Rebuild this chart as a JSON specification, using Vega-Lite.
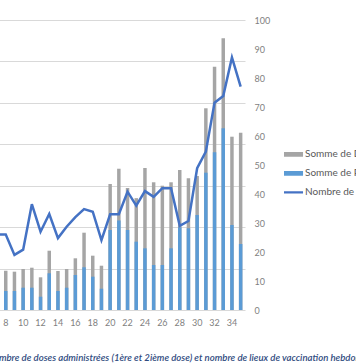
{
  "$schema": "https://vega.github.io/schema/vega-lite/v6.json",
  "width": 252.3,
  "height": 290,
  "autosize": {"type": "none"},
  "padding": {"left": -7.3, "top": 20, "right": 111, "bottom": 54},
  "background": "white",
  "config": {"view": {"stroke": null}, "font": "Lato"},
  "data": {"values": [
    {"week": 7, "doses": null, "prem": null, "lieux": 26},
    {"week": 8, "doses": 949, "prem": 459, "lieux": 26},
    {"week": 9, "doses": 925, "prem": 459, "lieux": 19},
    {"week": 10, "doses": 990, "prem": 538, "lieux": 20.8},
    {"week": 11, "doses": 1021, "prem": 538, "lieux": 36.5},
    {"week": 12, "doses": 789, "prem": 321, "lieux": 27},
    {"week": 13, "doses": 1431, "prem": 886, "lieux": 33.1},
    {"week": 14, "doses": 941, "prem": 459, "lieux": 24.8},
    {"week": 15, "doses": 990, "prem": 538, "lieux": 28.7},
    {"week": 16, "doses": 1248, "prem": 845, "lieux": 32},
    {"week": 17, "doses": 1866, "prem": 1031, "lieux": 34.8},
    {"week": 18, "doses": 1311, "prem": 804, "lieux": 33.9},
    {"week": 19, "doses": 1069, "prem": 514, "lieux": 24.1},
    {"week": 20, "doses": 3042, "prem": 1931, "lieux": 33},
    {"week": 21, "doses": 3410, "prem": 2161, "lieux": 33},
    {"week": 22, "doses": 2945, "prem": 1931, "lieux": 40.8},
    {"week": 23, "doses": 2700, "prem": 1649, "lieux": 36},
    {"week": 24, "doses": 3428, "prem": 1489, "lieux": 41},
    {"week": 25, "doses": 3083, "prem": 1086, "lieux": 39},
    {"week": 26, "doses": 3000, "prem": 1086, "lieux": 42},
    {"week": 27, "doses": 3083, "prem": 1489, "lieux": 42},
    {"week": 28, "doses": 3380, "prem": 1996, "lieux": 29},
    {"week": 29, "doses": 3179, "prem": 1972, "lieux": 30.7},
    {"week": 30, "doses": 3235, "prem": 2293, "lieux": 48.9},
    {"week": 31, "doses": 4869, "prem": 3314, "lieux": 54.6},
    {"week": 32, "doses": 5873, "prem": 3807, "lieux": 71.5},
    {"week": 33, "doses": 6559, "prem": 4386, "lieux": 73.8},
    {"week": 34, "doses": 4183, "prem": 2052, "lieux": 87.1},
    {"week": 35, "doses": 4280, "prem": 1593, "lieux": 77}
  ]},
  "title": {
    "text": "Nombre de doses administrées (1ère et 2ième dose) et nombre de lieux de vaccination hebdomadaire",
    "orient": "bottom",
    "anchor": "start",
    "frame": "group",
    "dx": -5.5,
    "offset": 26,
    "font": "Lato",
    "fontSize": 9.6,
    "fontStyle": "italic",
    "fontWeight": 600,
    "color": "#2F4B80"
  },
  "encoding": {
    "x": {
      "field": "week",
      "type": "ordinal",
      "scale": {"domain": [7,8,9,10,11,12,13,14,15,16,17,18,19,20,21,22,23,24,25,26,27,28,29,30,31,32,33,34,35], "paddingInner": 0, "paddingOuter": 0},
      "axis": {
        "values": [8,10,12,14,16,18,20,22,24,26,28,30,32,34],
        "labelAngle": 0,
        "ticks": false,
        "domain": false,
        "grid": false,
        "labelPadding": 8,
        "labelFontSize": 9,
        "labelColor": "#7F7F7F",
        "title": null
      }
    }
  },
  "layer": [
    {
      "mark": {"type": "bar", "width": {"band": 0.4}},
      "encoding": {
        "y": {
          "field": "doses",
          "type": "quantitative",
          "scale": {"domain": [0, 7000], "nice": false},
          "axis": {
            "orient": "left",
            "labels": false,
            "ticks": false,
            "domain": false,
            "grid": true,
            "gridColor": "#D9D9D9",
            "gridWidth": 1,
            "values": [0,1000,2000,3000,4000,5000,6000,7000],
            "title": null
          }
        },
        "color": {
          "datum": "Somme de Doses administrées",
          "type": "nominal",
          "scale": {
            "domain": ["Somme de Doses administrées", "Somme de Premières doses", "Nombre de lieux de vaccination"],
            "range": ["#A5A5A5", "#5B9BD5", "#4472C4"]
          },
          "legend": {
            "orient": "none",
            "legendX": 291.3,
            "legendY": 125.8,
            "title": null,
            "padding": 0,
            "symbolSize": 289,
            "rowPadding": 2,
            "labelOffset": 4,
            "labelFontSize": 10,
            "labelColor": "#595959",
            "labelFont": "Lato",
            "labelLimit": 0,
            "encode": {
              "symbols": {
                "update": {
                  "shape": {"signal": "datum.value === 'Nombre de lieux de vaccination' ? 'M-1.24,-0.13H1.24V0.13H-1.24Z' : 'M-1.24,-0.28H1.24V0.28H-1.24Z'"},
                  "fill": {"scale": "color", "field": "value"},
                  "stroke": {"value": "transparent"},
                  "strokeWidth": {"value": 0},
                  "opacity": {"value": 1}
                }
              },
              "entries": {
                "update": {}
              }
            },
            "symbolLimit": 0,
            "clipHeight": 17
          }
        }
      }
    },
    {
      "mark": {"type": "bar", "width": {"band": 0.4}},
      "encoding": {
        "y": {
          "field": "prem",
          "type": "quantitative",
          "scale": {"domain": [0, 7000], "nice": false},
          "axis": null
        },
        "color": {"datum": "Somme de Premières doses", "type": "nominal"}
      }
    },
    {
      "mark": {"type": "line", "strokeWidth": 2.5, "strokeJoin": "miter"},
      "encoding": {
        "y": {
          "field": "lieux",
          "type": "quantitative",
          "scale": {"domain": [0, 100], "nice": false},
          "axis": {
            "orient": "right",
            "values": [0,10,20,30,40,50,60,70,80,90,100],
            "grid": false,
            "ticks": false,
            "domain": false,
            "labelPadding": 9,
            "labelFontSize": 9,
            "labelColor": "#7F7F7F",
            "title": null
          }
        },
        "color": {"datum": "Nombre de lieux de vaccination", "type": "nominal"}
      }
    }
  ],
  "resolve": {"scale": {"y": "independent"}}
}
